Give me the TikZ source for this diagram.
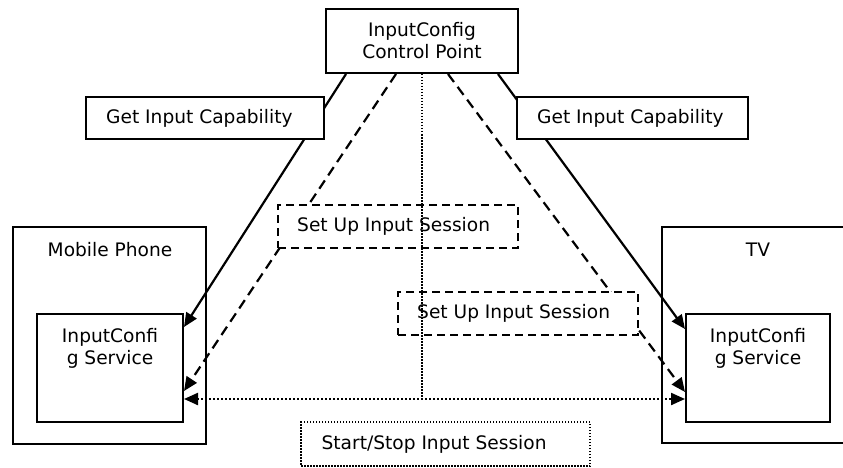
\documentclass[tikz,border=0pt]{standalone}
\usepackage{fontspec}
\setmainfont{DejaVu Sans}
\usetikzlibrary{arrows.meta,calc}
\pgfdeclarelayer{bg}
\pgfsetlayers{bg,main}
\begin{document}
\begin{tikzpicture}[x=1pt,y=-1pt,
  box/.style={draw,line width=2pt,fill=white,inner sep=0pt},
  dbox/.style={draw,line width=2pt,fill=white,inner sep=0pt,dash pattern=on 8pt off 5pt},
  obox/.style={draw,line width=2pt,inner sep=0pt},
  tbox/.style={draw,line width=1.2pt,fill=white,inner sep=0pt,dash pattern=on 1.5pt off 1.5pt},
  lbl/.style={font=\fontsize{18.6}{22}\selectfont,align=center,inner sep=0pt},
  tip/.style={-{Triangle[length=14pt,width=12pt]}},
  solidline/.style={line width=2.2pt,tip},
  dashline/.style={line width=2.2pt,dash pattern=on 10pt off 6pt,tip},
  dotline/.style={line width=2.2pt,dash pattern=on 2pt off 2pt},
  vdotline/.style={line width=1.4pt,dash pattern=on 1.5pt off 1.5pt}
]
\useasboundingbox (0,0) rectangle (843,468);
\clip (0,0) rectangle (843,468);

% outer device boxes
\node[obox,minimum width=193pt,minimum height=217pt] (mp) at (109.5,335.5) {};
\node[lbl] (mpt) at (110,250) {Mobile Phone};
\node[obox,minimum width=200pt,minimum height=216pt] (tv) at (762,335) {};
\node[lbl] (tvt) at (758,250) {TV};

% service boxes
\node[box,minimum width=146pt,minimum height=108pt] (ms) at (110,368) {};
\node[lbl] (mst) at (110,348.5) {InputConfi\\g Service};
\node[box,minimum width=144pt,minimum height=108pt] (ts) at (758,368) {};
\node[lbl] (tst) at (758,348.5) {InputConfi\\g Service};

% control point
\node[box,minimum width=192pt,minimum height=64pt] (cp) at (422,41) {};
\node[lbl] (cpt) at (422,41) {InputConfig\\Control Point};

% connectors (behind label boxes)
\begin{pgfonlayer}{bg}
\draw[solidline] ([xshift=21pt]cp.south west) -- ([yshift=-14pt]ms.north east);
\draw[dashline] ([xshift=71pt]cp.south west) -- ([yshift=-78pt]ms.north east);
\draw[dashline] ([xshift=-71pt]cp.south east) -- ([yshift=-79pt]ts.north west);
\draw[solidline] ([xshift=-21pt]cp.south east) -- ([yshift=-16pt]ts.north west);
\end{pgfonlayer}

% label boxes
\node[box,minimum width=238pt,minimum height=42pt] (gl) at (205,118) {};
\node[lbl,anchor=west] (glt) at ([xshift=21pt]gl.west) {Get Input Capability};
\node[box,minimum width=231pt,minimum height=42pt] (gr) at (632.5,118) {};
\node[lbl,anchor=west] (grt) at ([xshift=21pt]gr.west) {Get Input Capability};
\node[dbox,minimum width=240pt,minimum height=43pt] (s1) at (398,226.5) {};
\node[lbl,anchor=west] (s1t) at ([xshift=20pt]s1.west) {Set Up Input Session};
\node[dbox,minimum width=240pt,minimum height=43pt] (s2) at (518,313.5) {};
\node[lbl,anchor=west] (s2t) at ([xshift=20pt]s2.west) {Set Up Input Session};
\node[tbox,minimum width=289pt,minimum height=44pt] (ss) at (445.5,444) {};
\node[lbl,anchor=west] (sst) at ([xshift=21pt]ss.west) {Start/Stop Input Session};

% dotted session line
\coordinate (hl) at ([yshift=-86pt]ms.north east);
\coordinate (hr) at ([yshift=-86pt]ts.north west);
\draw[dotline,{Triangle[length=14pt,width=12pt]}-{Triangle[length=14pt,width=12pt]}] (hl) -- (hr);
\draw[vdotline] (cp.south) -- (cp.south |- hl);
\end{tikzpicture}
\end{document}
